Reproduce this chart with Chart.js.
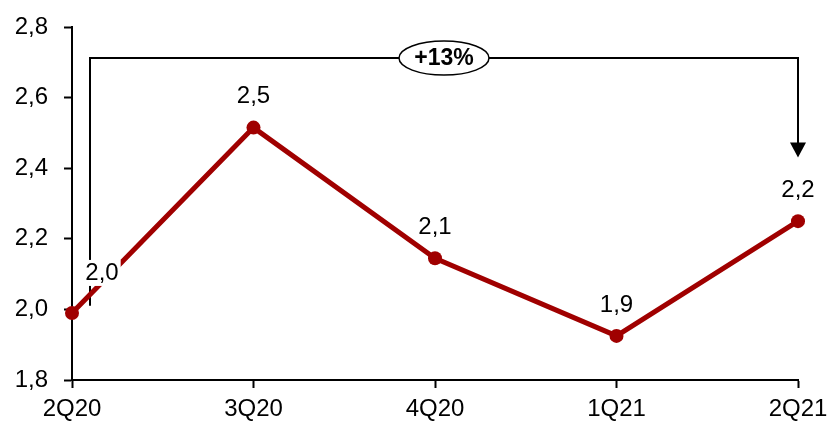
<!DOCTYPE html>
<html>
<head>
<meta charset="utf-8">
<script src="https://cdn.jsdelivr.net/npm/chart.js@4"></script>
<style>
  html, body { margin: 0; padding: 0; background: #fff; }
  #wrap { width: 829px; height: 432px; }
</style>
</head>
<body>
<div id="wrap"><canvas id="chart" width="829" height="432"></canvas></div>
<script>
// datos
const quarters = ['2Q20', '3Q20', '4Q20', '1Q21', '2Q21'];
const values = [1.99, 2.515, 2.145, 1.925, 2.25];
const labels = ['2,0', '2,5', '2,1', '1,9', '2,2'];
const growthText = '+13%';

const RED = '#a00000';
const FONT = 'Arial, "Liberation Sans", sans-serif';

// etiquetas de datos con fondo blanco
const dataLabels = {
    id: 'dataLabels',
    afterDatasetsDraw(chart) {
        const ctx = chart.ctx;
        const meta = chart.getDatasetMeta(0);
        ctx.save();
        ctx.font = '24px ' + FONT;
        ctx.textAlign = 'center';
        ctx.textBaseline = 'middle';
        meta.data.forEach((pt, i) => {
            let x = pt.x, y = pt.y - 31;
            if (i === 0) { x = pt.x + 30; y = pt.y - 40; }
            const w = ctx.measureText(labels[i]).width;
            ctx.fillStyle = '#fff';
            ctx.fillRect(x - w / 2 - 2, y - 13, w + 4, 26);
            ctx.fillStyle = '#000';
            ctx.fillText(labels[i], x, y);
        });
        ctx.restore();
    }
};

// corchete con flecha y óvalo del crecimiento
const bracket = {
    id: 'bracket',
    beforeDatasetsDraw(chart) {
        const ctx = chart.ctx;
        const xs = chart.scales.x, ys = chart.scales.y;
        const x0 = xs.getPixelForValue(0) + 18;
        const x1 = xs.getPixelForValue(quarters.length - 1);
        const yTop = ys.getPixelForValue(2.712);
        const yStart = ys.getPixelForValue(2.01);
        const yEnd = ys.getPixelForValue(2.43);
        ctx.save();
        ctx.strokeStyle = '#000';
        ctx.lineWidth = 2;
        ctx.beginPath();
        ctx.moveTo(x0, yStart);
        ctx.lineTo(x0, yTop);
        ctx.lineTo(x1, yTop);
        ctx.lineTo(x1, yEnd - 12);
        ctx.stroke();
        ctx.fillStyle = '#000';
        ctx.beginPath();
        ctx.moveTo(x1 - 8, yEnd - 15);
        ctx.lineTo(x1 + 8, yEnd - 15);
        ctx.lineTo(x1, yEnd);
        ctx.closePath();
        ctx.fill();

        const cx = (x0 + x1) / 2;
        ctx.beginPath();
        ctx.ellipse(cx, yTop, 45, 17, 0, 0, Math.PI * 2);
        ctx.fillStyle = '#fff';
        ctx.fill();
        ctx.lineWidth = 1.5;
        ctx.stroke();
        ctx.fillStyle = '#000';
        ctx.font = 'bold 23px ' + FONT;
        ctx.textAlign = 'center';
        ctx.textBaseline = 'middle';
        ctx.fillText(growthText, cx, yTop + 1);
        ctx.restore();
    }
};

new Chart(document.getElementById('chart').getContext('2d'), {
    type: 'line',
    data: {
        labels: quarters,
        datasets: [{
            data: values,
            borderColor: RED,
            backgroundColor: RED,
            borderWidth: 5,
            pointRadius: 7,
            pointBackgroundColor: RED,
            pointBorderWidth: 0,
            tension: 0
        }]
    },
    options: {
        responsive: false,
        animation: false,
        devicePixelRatio: 1,
        layout: { padding: { top: 27, right: 31, left: 0, bottom: 0 } },
        plugins: {
            legend: { display: false },
            tooltip: { enabled: false }
        },
        scales: {
            x: {
                offset: false,
                afterFit(scale) {
                    scale.height = 52;
                    scale.paddingLeft = 0;
                    scale.paddingRight = 0;
                },
                grid: { drawOnChartArea: false, drawTicks: true, tickLength: 8, tickColor: '#000', tickWidth: 2 },
                border: { color: '#000', width: 2 },
                ticks: { color: '#000', font: { family: FONT, size: 24 }, padding: 7, maxRotation: 0 }
            },
            y: {
                min: 1.8,
                max: 2.8,
                afterFit(scale) {
                    scale.width = 72;
                    scale.paddingTop = 0;
                    scale.paddingBottom = 0;
                },
                grid: { drawOnChartArea: false, drawTicks: true, tickLength: 8, tickColor: '#000', tickWidth: 2 },
                border: { color: '#000', width: 2 },
                ticks: {
                    stepSize: 0.2,
                    color: '#000',
                    font: { family: FONT, size: 24 },
                    padding: 16,
                    callback: v => v.toFixed(1).replace('.', ',')
                }
            }
        }
    },
    plugins: [bracket, dataLabels]
});
</script>
</body>
</html>
